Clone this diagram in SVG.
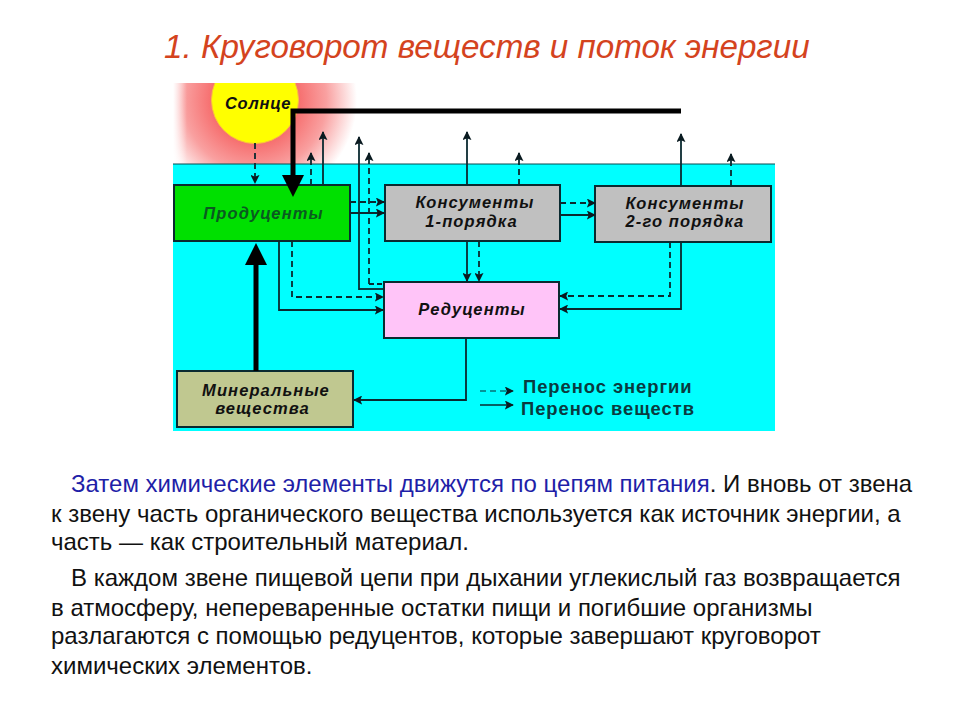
<svg xmlns="http://www.w3.org/2000/svg" width="960" height="720" viewBox="0 0 960 720">
<defs>
<radialGradient id="glow" gradientUnits="userSpaceOnUse" cx="255" cy="100" r="102"><stop offset="0.4" stop-color="#f66a6a"/><stop offset="0.7" stop-color="#f9a0a0"/><stop offset="1" stop-color="#ffffff"/></radialGradient>
<linearGradient id="edge" x1="0" y1="0" x2="1" y2="0"><stop offset="0" stop-color="#ffffff"/><stop offset="1" stop-color="#ffffff" stop-opacity="0"/></linearGradient>
<marker id="a" viewBox="0 0 10 10" refX="9" refY="5" markerWidth="9" markerHeight="9" markerUnits="userSpaceOnUse" orient="auto"><path d="M0 0L10 5L0 10L2 5Z" fill="#0a1a20"/></marker>
<clipPath id="sky"><rect x="173" y="83" width="190" height="81"/></clipPath>
</defs>
<style>
.t{font-family:"Liberation Sans",Arial,sans-serif}
.title{font-size:33.2px;font-style:italic;fill:#d4431e}
.p{font-size:24px;fill:#111}
.b{fill:#1f1fa8}
.n{font-size:16.5px;font-weight:bold;font-style:italic;fill:#111;text-anchor:middle;letter-spacing:1.1px}
.l{font-size:18.4px;font-weight:bold;fill:#0a3a40;letter-spacing:.95px}
.box{stroke:#0a2a30;stroke-width:2}
.s{fill:none;stroke:#0a2a30;stroke-width:1.8;marker-end:url(#a)}
.d{fill:none;stroke:#0a2a30;stroke-width:1.8;stroke-dasharray:6 4;marker-end:url(#a)}
</style>
<rect width="960" height="720" fill="#fff"/>
<text class="t title" x="164" y="58">1. Круговорот веществ и поток энергии</text>
<g id="background">
<rect x="173" y="83" width="190" height="81" fill="url(#glow)"/>
<rect x="173" y="83" width="14" height="81" fill="url(#edge)"/>
<rect x="173" y="164" width="602" height="267" fill="#00ffff"/>
<line x1="173" y1="164" x2="775" y2="164" stroke="#0a4a50" stroke-width="1"/>
</g>
<g id="sun" clip-path="url(#sky)">
<circle cx="255" cy="100" r="43.5" fill="#ffff00" stroke="#f8c040" stroke-width="1"/>
<text class="t" x="258" y="109" text-anchor="middle" font-size="16.5" font-weight="bold" font-style="italic" letter-spacing="0.8" fill="#111">Солнце</text>
</g>
<g id="producers"><rect class="box" x="174" y="185" width="176" height="56" fill="#00e000"/><text class="t n" x="263.5" y="219" style="fill:#0a5a20">Продуценты</text></g>
<g id="consumers1"><rect class="box" x="385" y="185" width="175" height="56" fill="#c0c0c0"/><text class="t n" x="475" y="208">Консументы</text><text class="t n" x="471.5" y="227">1-порядка</text></g>
<g id="consumers2"><rect class="box" x="595" y="186" width="176" height="56" fill="#c0c0c0"/><text class="t n" x="685" y="209">Консументы</text><text class="t n" x="685" y="227">2-го порядка</text></g>
<g id="reducers"><rect class="box" x="384" y="282" width="175" height="56" fill="#ffc4f8"/><text class="t n" x="472" y="315">Редуценты</text></g>
<g id="minerals"><rect class="box" x="177" y="371" width="176" height="56" fill="#c0c890"/><text class="t n" x="266" y="396">Минеральные</text><text class="t n" x="262.5" y="414">вещества</text></g>
<g id="connectors">
<path class="d" d="M255 143V183"/>
<path class="d" d="M311 185V153"/>
<path class="s" d="M323 185V132"/>
<path class="s" d="M359 290V137"/>
<path d="M359 289H383" fill="none" stroke="#0a2a30" stroke-width="1.8"/>
<path class="d" d="M369 284V153"/>
<path d="M369 284H383" fill="none" stroke="#0a2a30" stroke-width="1.8" stroke-dasharray="5 3"/>
<path class="d" d="M350 202H384"/>
<path class="s" d="M350 213H384"/>
<path class="s" d="M467 185V132"/>
<path class="d" d="M519 185V153"/>
<path class="d" d="M560 203H595"/>
<path class="s" d="M560 215H595"/>
<path class="s" d="M681 186V134"/>
<path class="d" d="M731 186V154"/>
<path class="s" d="M467 241V281"/>
<path class="d" d="M479 241V281"/>
<path class="d" d="M670 242V296H560"/>
<path class="s" d="M681 242V309H560"/>
<path class="s" d="M279 241V310H383"/>
<path class="d" d="M292 241V297H383"/>
<path class="s" d="M466 338V400H354"/>
<path d="M681 111H293V178" fill="none" stroke="#000" stroke-width="5"/>
<path d="M282 175H304L293 197Z" fill="#000"/>
<path d="M256 371V262" fill="none" stroke="#000" stroke-width="5"/>
<path d="M245 265H267L256 243Z" fill="#000"/>
</g>
<g id="legend">
<path class="d" d="M480 391H513" style="stroke-width:1"/>
<path class="s" d="M480 405H513" style="stroke-width:1.4"/>
<text class="t l" x="523" y="393">Перенос энергии</text>
<text class="t l" x="521" y="415">Перенос веществ</text>
</g>
<g id="text">
<text class="t p" x="71" y="492"><tspan class="b">Затем химические элементы движутся по цепям питания</tspan>. И вновь от звена</text>
<text class="t p" x="51" y="522">к звену часть органического вещества используется как источник энергии, а</text>
<text class="t p" x="51" y="550">часть — как строительный материал.</text>
<text class="t p" x="71" y="586">В каждом звене пищевой цепи при дыхании углекислый газ возвращается</text>
<text class="t p" x="51" y="616">в атмосферу, непереваренные остатки пищи и погибшие организмы</text>
<text class="t p" x="51" y="644">разлагаются с помощью редуцентов, которые завершают круговорот</text>
<text class="t p" x="51" y="674">химических элементов.</text>
</g>
</svg>
